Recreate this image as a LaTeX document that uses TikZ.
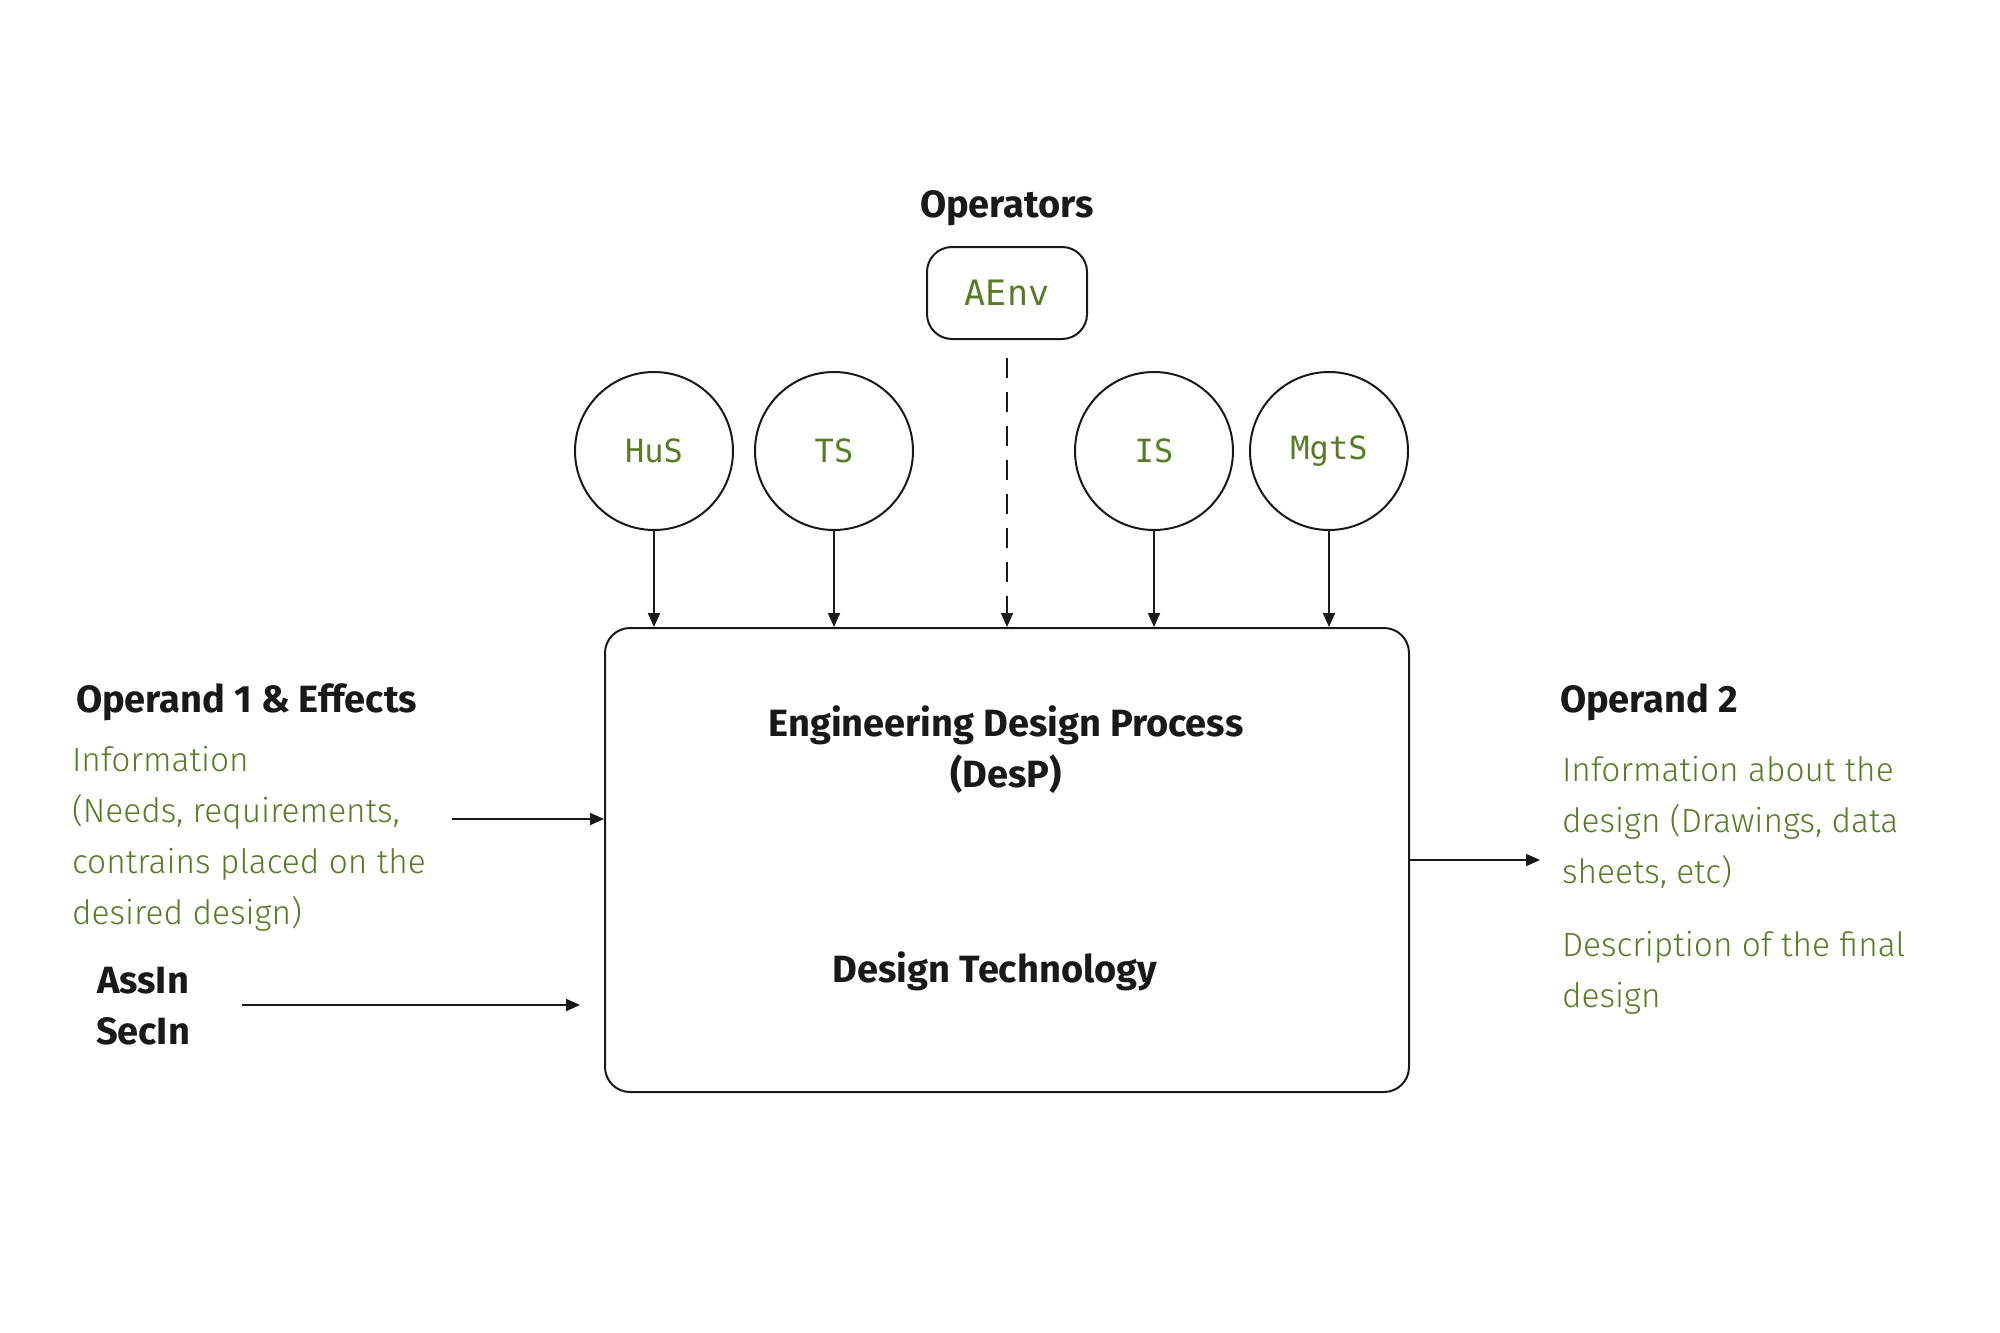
\documentclass[tikz,border=0pt]{standalone}
\usepackage{fontspec}
\setmainfont{Fira Sans}
\newfontfamily\lightf{Fira Sans Light}
\newfontfamily\monof{DejaVu Sans Mono}
\usetikzlibrary{arrows.meta}
\definecolor{dgreen}{RGB}{88,124,38}
\definecolor{ink}{RGB}{25,25,25}
\begin{document}
\begin{tikzpicture}[x=1pt,y=-1pt,line width=2pt,draw=ink,
  head/.style={font=\fontsize{38}{51}\selectfont\bfseries,text=ink,inner sep=0pt},
  gtext/.style={font=\lightf\fontsize{33.5}{51}\selectfont,text=dgreen,align=left,inner sep=0pt},
  mono/.style={font=\monof\fontsize{32}{38}\selectfont,text=dgreen},
  circ/.style={draw,circle,minimum size=158pt,inner sep=0pt},
  arr/.style={-{Triangle[length=14pt,width=12pt]}}]
\useasboundingbox[fill=white] (0,0) rectangle (2000,1333);

\node[head] (ops) at (1007,208) {Operators};
\node[draw,rounded corners=25pt,minimum width=160pt,minimum height=92pt,mono,font=\monof\fontsize{35}{40}\selectfont] (aenv) at (1007,293) {AEnv};
\node[circ,mono] (hus) at (654,451) {HuS};
\node[circ,mono] (ts) at (834,451) {TS};
\node[circ,mono] (is) at (1154,451) {IS};
\node[circ,mono] (mgts) at (1329,451) {MgtS};

\node[draw,rounded corners=25pt,minimum width=804pt,minimum height=464pt] (box) at (1007,860) {};
\node[head,align=center] (edp) at (1006,750) {Engineering Design Process\\(DesP)};
\node[head] (dt) at (995,971) {Design Technology};

\draw[arr] (hus.south) -- (hus.south |- box.north);
\draw[arr] (ts.south) -- (ts.south |- box.north);
\draw[arr] (is.south) -- (is.south |- box.north);
\draw[arr] (mgts.south) -- (mgts.south |- box.north);
\draw[arr,dash pattern=on 20pt off 14pt] ([yshift=-18pt]aenv.south) -- (aenv.south |- box.north);

\node[head,anchor=west] (op1) at (75,702) {Operand 1 \& Effects};
\node[gtext,anchor=north west] (info1) at (71,745) {Information\\(Needs, requirements,\\contrains placed on the\\desired design)};
\node[head,align=center] (ass) at (143,1006) {AssIn\\SecIn};
\coordinate (a1s) at (452,819);
\draw[arr] (a1s) -- (a1s -| box.west);
\coordinate (a2s) at (242,1005);
\coordinate (a2e) at (580,1005);
\draw[arr] (a2s) -- (a2e);

\coordinate (r1e) at (1540,860);
\draw[arr] (box.east) -- (r1e);
\node[head,anchor=west] (op2) at (1559,702) {Operand 2};
\node[gtext,anchor=north west] (info2) at (1561,755) {Information about the\\design (Drawings, data\\sheets, etc)};
\node[gtext,anchor=north west] (desc) at (1561,930) {Description of the final\\design};
\end{tikzpicture}
\end{document}
